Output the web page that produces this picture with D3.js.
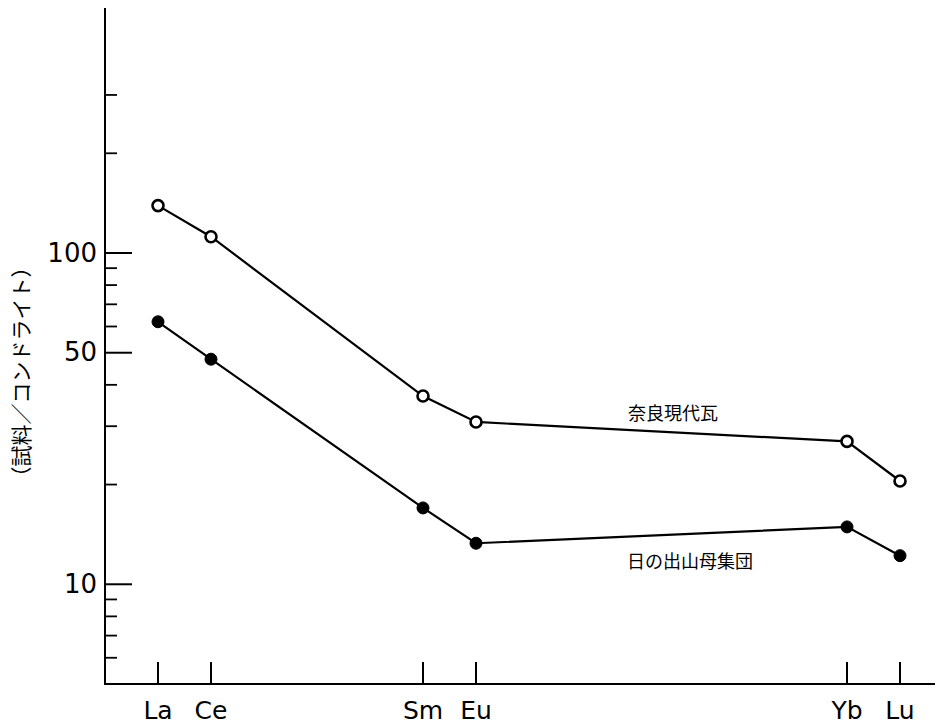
<!DOCTYPE html>
<html>
<head>
<meta charset="utf-8">
<script src="https://cdn.jsdelivr.net/npm/d3@7"></script>
<style>
  html, body { margin: 0; padding: 0; background: #fff; }
  svg { display: block; }
</style>
</head>
<body>
<svg id="chart" width="938" height="724"></svg>
<script>
// ---- data ----
const elements = ["La", "Ce", "Sm", "Eu", "Yb", "Lu"];
const atomicNumbers = [57, 58, 62, 63, 70, 71];
const seriesNames = ["奈良現代瓦", "日の出山母集団"];
const naraValues = [139, 112, 37.0, 30.9, 27.0, 20.5];
const hinodeValues = [62, 47.8, 17.0, 13.3, 14.9, 12.2];
const majorTicks = [10, 50, 100];
const minorTicks = [6, 7, 8, 9, 20, 30, 40, 60, 70, 80, 90, 200, 300];
const yTitle = "（試料／コンドライト）";

// ---- layout ----
const svg = d3.select("#chart");
const axisX0 = 105, axisX1 = 935, axisYTop = 8, axisYBottom = 684;

const x = d3.scaleLinear().domain([56, 71.66]).range([axisX0, axisX1]);
const y = d3.scaleLog().domain([5, 549]).range([axisYBottom, axisYTop]);

const ink = "#000";

// y axis line
svg.append("line")
  .attr("x1", axisX0).attr("x2", axisX0)
  .attr("y1", axisYTop).attr("y2", axisYBottom)
  .attr("stroke", ink).attr("stroke-width", 2);

// x axis line
svg.append("line")
  .attr("x1", axisX0 - 1).attr("x2", axisX1)
  .attr("y1", axisYBottom).attr("y2", axisYBottom)
  .attr("stroke", ink).attr("stroke-width", 2);

// y ticks (inward)
svg.selectAll("line.major").data(majorTicks).enter().append("line")
  .attr("x1", axisX0).attr("x2", axisX0 + 27)
  .attr("y1", d => y(d)).attr("y2", d => y(d))
  .attr("stroke", ink).attr("stroke-width", 2);

svg.selectAll("line.minor").data(minorTicks).enter().append("line")
  .attr("x1", axisX0).attr("x2", axisX0 + 12)
  .attr("y1", d => y(d)).attr("y2", d => y(d))
  .attr("stroke", ink).attr("stroke-width", 1.8);

svg.selectAll("text.ylab").data(majorTicks).enter().append("text")
  .attr("x", 97).attr("y", d => y(d) + 1)
  .attr("text-anchor", "end")
  .attr("dominant-baseline", "middle")
  .attr("font-family", "'DejaVu Sans', sans-serif")
  .attr("font-size", 26)
  .attr("fill", ink)
  .text(d => d);

// x ticks (inward, upward)
svg.selectAll("line.xt").data(atomicNumbers).enter().append("line")
  .attr("x1", d => x(d)).attr("x2", d => x(d))
  .attr("y1", axisYBottom).attr("y2", axisYBottom - 22)
  .attr("stroke", ink).attr("stroke-width", 2);

svg.selectAll("text.xlab").data(elements).enter().append("text")
  .attr("x", (d, i) => x(atomicNumbers[i]))
  .attr("y", 719)
  .attr("text-anchor", "middle")
  .attr("font-family", "'DejaVu Sans', sans-serif")
  .attr("font-size", 25)
  .attr("fill", ink)
  .text(d => d);

// y title
svg.append("text")
  .attr("transform", "translate(20,372) rotate(-90)")
  .attr("text-anchor", "middle")
  .attr("dominant-baseline", "central")
  .style("font-family", "'Noto Sans CJK JP'")
  .style("font-size", "21px")
  .attr("fill", ink)
  .text(yTitle);

// series
const line = d3.line()
  .x((d, i) => x(atomicNumbers[i]))
  .y(d => y(d));

function drawSeries(values, filled) {
  svg.append("path")
    .datum(values)
    .attr("d", line)
    .attr("fill", "none")
    .attr("stroke", ink)
    .attr("stroke-width", 2.2);
  svg.selectAll(null).data(values).enter().append("circle")
    .attr("cx", (d, i) => x(atomicNumbers[i]))
    .attr("cy", d => y(d))
    .attr("r", filled ? 6 : 5.5)
    .attr("fill", filled ? ink : "#fff")
    .attr("stroke", ink)
    .attr("stroke-width", filled ? 1 : 2.6);
}
drawSeries(naraValues, false);
drawSeries(hinodeValues, true);

// series labels
svg.append("text")
  .attr("x", 673).attr("y", 415)
  .attr("text-anchor", "middle")
  .attr("dominant-baseline", "middle")
  .style("font-family", "'Noto Sans CJK JP'")
  .style("font-size", "18px")
  .attr("fill", ink)
  .text(seriesNames[0]);

svg.append("text")
  .attr("x", 690).attr("y", 563)
  .attr("text-anchor", "middle")
  .attr("dominant-baseline", "middle")
  .style("font-family", "'Noto Sans CJK JP'")
  .style("font-size", "18px")
  .attr("fill", ink)
  .text(seriesNames[1]);
</script>
</body>
</html>
